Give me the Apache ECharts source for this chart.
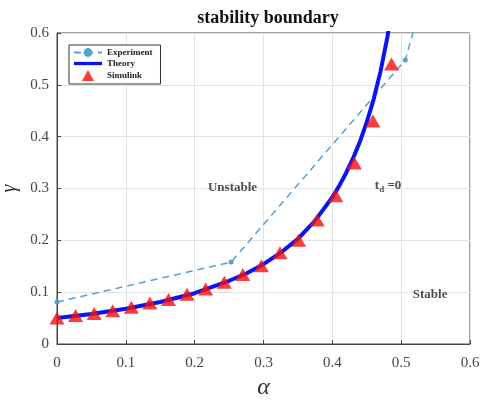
<!DOCTYPE html>
<html>
<head>
<meta charset="utf-8">
<script src="https://cdn.jsdelivr.net/npm/echarts@6/dist/echarts.min.js"></script>
<style>
html,body{margin:0;padding:0;background:#fff;}
#main{width:482px;height:400px;}
</style>
</head>
<body>
<div id="main"></div>
<script>
// experiment (dashed)
var expAlpha = [0, 0.253, 0.506, 0.53];
var expGamma = [0.081, 0.158, 0.548, 0.66];

// theory curve
var thAlpha = [0, 0.05, 0.1, 0.15, 0.2, 0.25, 0.275, 0.3, 0.325, 0.35, 0.375, 0.4, 0.41, 0.42, 0.43, 0.44, 0.45, 0.46, 0.47, 0.48, 0.49];
var thGamma = [0.05, 0.058, 0.068, 0.081, 0.098, 0.122, 0.136, 0.154, 0.176, 0.203, 0.238, 0.283, 0.305, 0.33, 0.358, 0.39, 0.428, 0.472, 0.526, 0.592, 0.675];

// simulink triangles
var simAlpha = [0, 0.027, 0.054, 0.081, 0.108, 0.135, 0.162, 0.189, 0.216, 0.243, 0.27, 0.297, 0.324, 0.351, 0.378, 0.405, 0.432, 0.459, 0.486];
var simGamma = [0.05, 0.055, 0.059, 0.064, 0.071, 0.079, 0.086, 0.096, 0.106, 0.119, 0.134, 0.151, 0.176, 0.2, 0.239, 0.286, 0.349, 0.43, 0.54];

var xTicks = [0, 0.1, 0.2, 0.3, 0.4, 0.5, 0.6];
var yTicks = [0, 0.1, 0.2, 0.3, 0.4, 0.5, 0.6];

var notes = [
  {name: 'Unstable', value: [0.255, 0.301]},
  {name: 'td', value: [0.481, 0.305]},
  {name: 'Stable', value: [0.542, 0.095]}
];

function pairs(a, b) {
  var out = [];
  for (var i = 0; i < a.length; i++) out.push([a[i], b[i]]);
  return out;
}

var serif = '"Liberation Serif", "DejaVu Serif", serif';
var chart = echarts.init(document.getElementById('main'));

var option = {
  backgroundColor: '#fff',
  animation: false,
  title: {
    text: 'stability boundary',
    left: 263,
    textAlign: 'center',
    top: 4,
    textStyle: {fontFamily: serif, fontWeight: 'bold', fontSize: 18, color: '#111'}
  },
  legend: {
    orient: 'vertical',
    left: 69,
    top: 45,
    itemWidth: 28,
    itemHeight: 11,
    itemGap: 2,
    padding: [3, 8, 3, 4],
    borderColor: '#333',
    borderWidth: 1,
    backgroundColor: '#fff',
    textStyle: {fontFamily: serif, fontWeight: 'bold', fontSize: 9, color: '#222'},
    data: [
      {name: 'Experiment'},
      {name: 'Theory', icon: 'path://M0,0 L30,0 L30,3.5 L0,3.5 Z'},
      {name: 'Simulink', icon: 'path://M5,0 L10,9 L0,9 Z'}
    ]
  },
  grid: {
    left: 57, right: 12, top: 33, bottom: 56,
    outerBoundsMode: 'none',
    containLabel: false,
    show: true, borderColor: '#444', borderWidth: 1
  },
  xAxis: {
    type: 'value',
    min: 0, max: 0.6, interval: 0.1,
    name: 'α',
    nameLocation: 'middle',
    nameGap: 29,
    nameTextStyle: {fontFamily: serif, fontStyle: 'italic', fontSize: 24, color: '#333'},
    axisLine: {show: true, lineStyle: {color: '#444'}},
    axisTick: {show: true, inside: true, length: 4, lineStyle: {color: '#444'}},
    splitLine: {show: true, lineStyle: {color: '#e2e2e2'}},
    axisLabel: {
      fontFamily: serif, fontSize: 15, color: '#444', margin: 12,
      formatter: function (v) { return xTicks.indexOf(+v.toFixed(1)) >= 0 ? String(+v.toFixed(1)) : ''; }
    }
  },
  yAxis: {
    type: 'value',
    min: 0, max: 0.6, interval: 0.1,
    name: 'γ',
    nameLocation: 'middle',
    nameGap: 34,
    nameRotate: 90,
    nameTextStyle: {fontFamily: serif, fontStyle: 'italic', fontSize: 20, color: '#333'},
    axisLine: {show: true, lineStyle: {color: '#444'}},
    axisTick: {show: true, inside: true, length: 4, lineStyle: {color: '#444'}},
    splitLine: {show: true, lineStyle: {color: '#e2e2e2'}},
    axisLabel: {
      fontFamily: serif, fontSize: 15, color: '#444', margin: 8,
      formatter: function (v) { return yTicks.indexOf(+v.toFixed(1)) >= 0 ? String(+v.toFixed(1)) : ''; }
    }
  },
  series: [
    {
      name: 'Experiment',
      type: 'line',
      data: pairs(expAlpha, expGamma),
      symbol: 'circle',
      symbolSize: 5,
      itemStyle: {color: '#4fa3d4'},
      lineStyle: {color: '#4fa3d4', width: 1.5, type: [7, 5]},
      z: 2
    },
    {
      name: 'Theory',
      type: 'line',
      data: pairs(thAlpha, thGamma),
      smooth: false,
      showSymbol: false,
      symbol: 'none',
      itemStyle: {color: '#0a14f0'},
      lineStyle: {color: '#0a14f0', width: 4, join: 'round'},
      z: 3
    },
    {
      name: 'Simulink',
      type: 'scatter',
      data: pairs(simAlpha, simGamma),
      symbol: 'triangle',
      symbolSize: [15, 13],
      itemStyle: {color: '#f41010'},
      z: 4
    },
    {
      type: 'scatter',
      data: notes,
      symbolSize: 0,
      silent: true,
      label: {
        show: true,
        position: 'inside',
        fontFamily: serif,
        fontWeight: 'bold',
        fontSize: 13,
        color: '#222',
        formatter: function (p) {
          return p.name === 'td' ? '{b|t}{s|d}{b| =0}' : p.name;
        },
        rich: {
          b: {fontFamily: serif, fontWeight: 'bold', fontSize: 13, color: '#222'},
          s: {fontFamily: serif, fontWeight: 'bold', fontSize: 9, color: '#222', verticalAlign: 'bottom', padding: [8, 0, 0, 0]}
        }
      },
      z: 5
    }
  ]
};
chart.setOption(option);
</script>
</body>
</html>
